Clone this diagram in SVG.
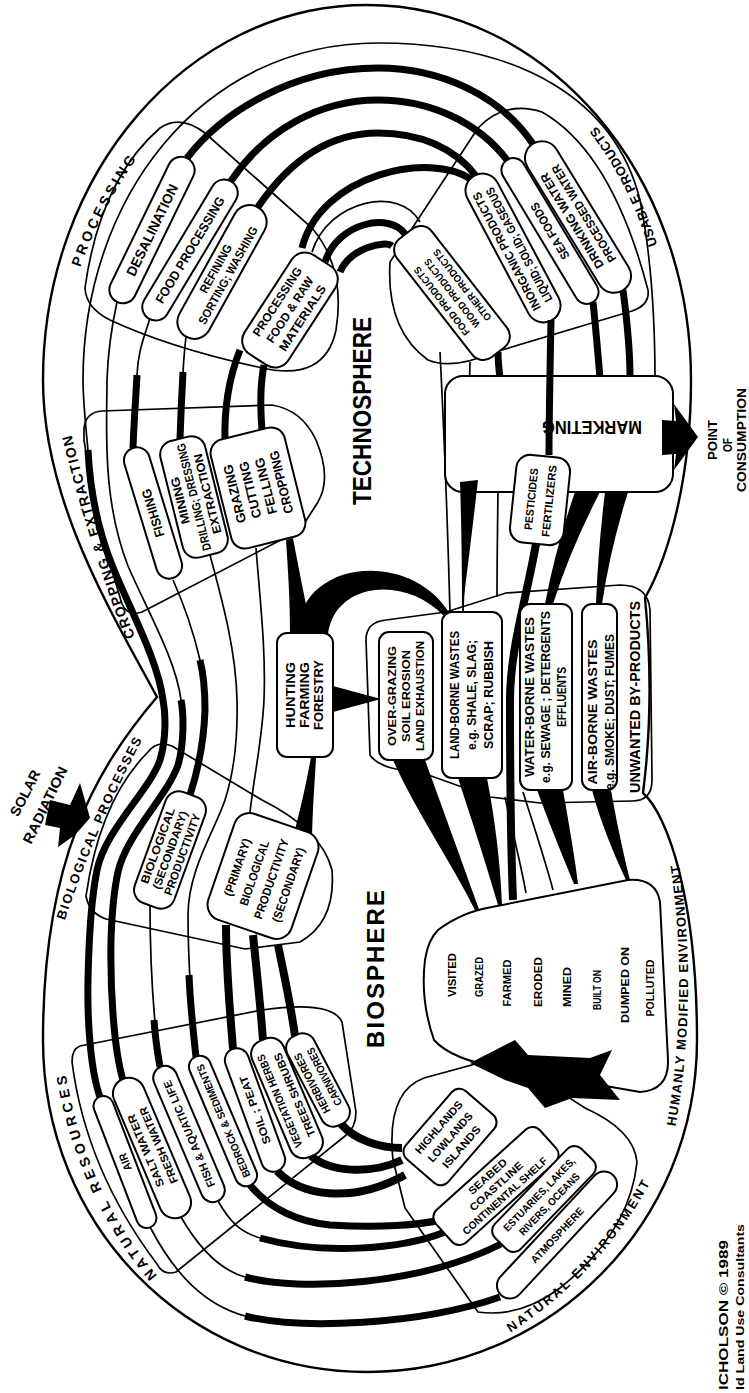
<svg xmlns="http://www.w3.org/2000/svg" width="749" height="1393" viewBox="0 0 749 1393">
<defs>
<style>
.o{fill:none;stroke:#000;stroke-width:2.4}
.t{fill:none;stroke:#000;stroke-width:1.7}
.k{fill:none;stroke:#000;stroke-width:7}
.kk{fill:none;stroke:#000;stroke-width:8}
.b{fill:#fff;stroke:#000;stroke-width:2}
.f{fill:#000;stroke:none}
text{font-family:"Liberation Sans",Arial,sans-serif;font-weight:bold;fill:#000}
.c{text-anchor:middle;dominant-baseline:central}
</style>
<path id="pProc" d="M 76,280 Q 100,206 146,146"/>
<path id="pUse" d="M 662,262 Q 640,177 585,112"/>
<path id="pCrop" d="M 140,650 Q 95,535 68,420"/>
<path id="pBio" d="M 60,935 Q 95,826 150,725"/>
<path id="pNR" d="M 168,1288 Q 80,1190 63,1055"/>
<path id="pNE" d="M 490,1345 Q 604,1280 662,1160"/>
<path id="pHum" d="M 673,1140 Q 701,995 677,850"/>
</defs>
<rect width="749" height="1393" fill="#fff"/>

<g id="outline">
<path class="o" d="M157,697 C110,610 43,500 43,380 C43,173 188,5 367,5 C546,5 691,173 691,380 C691,470 672,550 645,598 Q655,700 643,793 C668,815 697,900 697,1040 C697,1225 548,1372 367,1372 C186,1372 43,1225 43,1040 C43,860 95,770 157,697 Z"/>
</g>

<g id="regions">
<path class="t" d="M110,320 Q86,308 85,288 Q100,180 160,128 Q180,114 205,133 L312,228 Q346,268 336,330 Q325,382 262,368 Q170,348 110,320 Z"/>
<path class="t" d="M390,262 L478,128 Q505,100 542,112 Q612,152 648,290 Q650,305 632,311 L492,353 Q452,370 428,360 Q386,330 390,262 Z"/>
<path class="t" d="M84,428 Q86,412 102,411 L272,405 Q302,410 316,440 Q332,478 318,502 L300,530 L142,612 Q128,617 122,604 Q96,520 84,440 Z"/>
<path class="t" d="M148,752 Q157,740 172,746 L262,800 Q322,830 332,870 Q336,922 300,942 L245,949 L106,919 Q89,913 86,896 Q100,800 148,752 Z"/>
<path class="t" d="M80,1046 L262,1010 Q332,1000 342,1022 L356,1112 Q356,1128 345,1136 L176,1272 Q163,1276 157,1264 Q86,1170 72,1062 Q72,1049 80,1046 Z"/>
<path class="t" d="M405,1208 L393,1160 Q386,1092 424,1078 L505,1056 L585,1108 Q634,1130 637,1162 Q630,1232 560,1288 Q520,1318 478,1312 Z"/>
<path class="t" d="M366,640 Q366,622 386,620 L446,612 L506,593 L620,585 Q648,585 650,610 L652,780 Q652,801 632,801 L540,803 L490,797 L420,772 Q380,770 370,755 Z"/>
</g>

<g id="connectors">
<path class="k" d="M100,1097 C92,1075 87,1030 88,980 C89,930 92,895 97,870 C105,830 150,790 160,760 C166,740 166,715 163,700 C158,660 130,610 112,565 C98,530 90,490 88,450"/>
<path class="t" d="M88,450 C85,420 83,400 83,380 C83,200 200,43 378,43 C520,43 615,100 640,200 C652,260 655,320 655,380"/>
<path class="k" d="M123,1080 C114,1050 110,990 111,940 C112,910 114,890 118,872 C126,835 168,795 178,765 C184,745 184,715 181,700"/>
<path class="t" d="M181,700 C176,660 148,612 128,566 C114,530 108,490 107,450 C106,420 107,400 107,380 C108,350 112,325 117,302"/>
<path class="k" d="M190,795 C198,770 204,740 205,710 C205,690 203,672 200,660"/>
<path class="t" d="M200,660 C193,630 182,600 173,580"/>
<path class="t" d="M196,1057 C192,1020 188,960 188,915 C188,870 215,830 225,800 C233,775 238,740 237,700 C236,650 222,600 210,555"/>
<path class="k" d="M196,1057 C193,1030 190,1000 189,975"/>
<path class="t" d="M160,1067 C155,1030 150,980 150,905"/>
<path class="k" d="M160,1067 C157,1050 155,1035 154,1020"/>
<path class="kk" d="M233,1049 C230,1010 226,970 226,925"/>
<path class="kk" d="M263,1040 C260,1000 256,965 253,935"/>
<path class="kk" d="M295,1036 C290,1000 283,970 278,945"/>
<path class="t" d="M250,812 C255,770 262,740 264,700 C266,650 260,600 256,548"/>
<path class="f" d="M294,834 L312,840 C313,800 315,780 316,757 L311,757 C305,790 300,810 294,834 Z"/>
<path class="f" d="M290,633 L312,633 C305,600 298,565 293,538 L286,540 C288,570 290,600 290,633 Z"/>
<path class="f" d="M298,634 C298,560 410,548 450,614 L444,616 C405,575 335,582 328,634 Z"/>
<polygon class="f" points="333,686 333,712 381,699"/>
<path class="k" d="M133,448 C134,420 136,395 137,375"/>
<path class="t" d="M137,375 C138,350 145,335 150,318"/>
<path class="k" d="M180,439 C181,410 182,390 183,372"/>
<path class="t" d="M183,372 C184,355 185,345 186,337"/>
<path class="k" d="M225,442 C224,410 228,380 240,350"/>
<path class="k" d="M262,430 C260,405 260,385 264,365"/>
<path class="k" d="M187,158 C220,115 290,68 378,68 C440,68 500,95 533,144"/>
<path class="k" d="M231,181 C265,130 320,100 378,100 C430,100 478,122 507,160"/>
<path class="k" d="M258,207 C290,160 330,133 378,133 C420,133 455,148 476,176"/>
<path class="k" d="M302,248 C320,175 430,150 472,180"/>
<path class="t" d="M312,252 C328,200 400,185 420,222"/>
<path class="k" d="M325,262 C338,222 390,212 405,234"/>
<path class="k" d="M340,272 C350,248 385,240 392,246"/>
<path class="k" d="M623,290 C627,320 630,350 630,378"/>
<path class="k" d="M593,302 C596,330 598,355 600,378"/>
<path class="k" d="M498,352 C498,362 499,370 500,378"/>
<path class="t" d="M440,352 C445,450 448,540 450,612"/>
<path class="t" d="M470,362 C468,450 465,540 463,612"/>
<path class="t" d="M498,352 C500,420 497,520 497,597"/>
<path class="t" d="M150,1227 C175,1275 205,1305 245,1316"/>
<path class="k" d="M245,1316 C300,1330 420,1325 500,1297"/>
<path class="t" d="M181,1217 C200,1250 220,1270 245,1277"/>
<path class="k" d="M245,1277 C300,1292 420,1285 501,1244"/>
<path class="t" d="M218,1201 C230,1222 240,1232 260,1238"/>
<path class="k" d="M260,1238 C320,1255 400,1250 445,1232"/>
<path class="k" d="M250,1185 C270,1210 300,1222 330,1225 C380,1228 420,1225 440,1220"/>
<path class="kk" d="M277,1171 C300,1195 350,1205 405,1175"/>
<path class="kk" d="M311,1156 C330,1172 370,1175 402,1160"/>
<path class="kk" d="M341,1124 C355,1140 380,1148 402,1148"/>
<path class="f" d="M393,760 L425,760 C445,815 465,870 480,912 L476,912 C450,860 415,810 393,760 Z"/>
<path class="f" d="M458,778 L487,778 C495,820 500,860 502,905 L498,905 C485,860 470,815 458,778 Z"/>
<path class="f" d="M537,790 L563,790 C570,830 575,860 578,884 L574,884 C560,850 548,820 537,790 Z"/>
<path class="f" d="M592,790 L611,790 C618,830 625,860 630,880 L626,880 C612,850 600,820 592,790 Z"/>
<path class="t" d="M523,792 C535,830 545,860 553,890"/>
<path class="t" d="M505,797 C512,830 520,860 526,893"/>
</g>

<g id="node-processing-pills">
<rect class="b" x="-80" y="-13.5" width="160" height="27" rx="13.5" transform="translate(152,230) rotate(-64)"/>
<text class="c" transform="translate(152,230) rotate(-64)" font-size="14" textLength="100" lengthAdjust="spacingAndGlyphs">DESALINATION</text>
<rect class="b" x="-80" y="-13.5" width="160" height="27" rx="13.5" transform="translate(190,250) rotate(-59)"/>
<text class="c" transform="translate(190,250) rotate(-59)" font-size="13" textLength="122" lengthAdjust="spacingAndGlyphs">FOOD PROCESSING</text>
<rect class="b" x="-74" y="-17" width="148" height="34" rx="17" transform="translate(222,272) rotate(-61)"/>
<text class="c" transform="translate(222,272) rotate(-61)" y="-7" font-size="12" textLength="54" lengthAdjust="spacingAndGlyphs">REFINING</text>
<text class="c" transform="translate(222,272) rotate(-61)" y="7" font-size="12" textLength="110" lengthAdjust="spacingAndGlyphs">SORTING; WASHING</text>
<rect class="b" x="-59" y="-26" width="118" height="52" rx="16" transform="translate(290,310) rotate(-57)"/>
<text class="c" transform="translate(290,310) rotate(-57)" y="-15" font-size="12" textLength="80" lengthAdjust="spacingAndGlyphs">PROCESSING</text>
<text class="c" transform="translate(290,310) rotate(-57)" y="0" font-size="12" textLength="76" lengthAdjust="spacingAndGlyphs">FOOD &amp; RAW</text>
<text class="c" transform="translate(290,310) rotate(-57)" y="15" font-size="12" textLength="76" lengthAdjust="spacingAndGlyphs">MATERIALS</text>
</g>

<g id="node-usable-pills">
<rect class="b" x="-86" y="-17" width="172" height="34" rx="17" transform="translate(578,217) rotate(-121.5)"/>
<text class="c" transform="translate(578,217) rotate(-121.5)" y="-7" font-size="12" textLength="110" lengthAdjust="spacingAndGlyphs">DRINKING WATER</text>
<text class="c" transform="translate(578,217) rotate(-121.5)" y="7" font-size="12" textLength="112" lengthAdjust="spacingAndGlyphs">PROCESSED WATER</text>
<rect class="b" x="-83" y="-12" width="166" height="24" rx="12" transform="translate(550,231) rotate(-121)"/>
<text class="c" transform="translate(550,231) rotate(-121)" font-size="12" textLength="64" lengthAdjust="spacingAndGlyphs">SEA FOODS</text>
<rect class="b" x="-82" y="-17" width="164" height="34" rx="17" transform="translate(513,248) rotate(-118)"/>
<text class="c" transform="translate(513,248) rotate(-118)" y="-7" font-size="12" textLength="132" lengthAdjust="spacingAndGlyphs">INORGANIC PRODUCTS</text>
<text class="c" transform="translate(513,248) rotate(-118)" y="7" font-size="12" textLength="128" lengthAdjust="spacingAndGlyphs">LIQUID; SOLID; GASEOUS</text>
<rect class="b" x="-75" y="-22" width="150" height="44" rx="14" transform="translate(452,293) rotate(-128)"/>
<text class="c" transform="translate(452,293) rotate(-128)" y="-13" font-size="10" textLength="84" lengthAdjust="spacingAndGlyphs">FOOD PRODUCTS</text>
<text class="c" transform="translate(452,293) rotate(-128)" y="0" font-size="10" textLength="84" lengthAdjust="spacingAndGlyphs">WOOD PRODUCTS</text>
<text class="c" transform="translate(452,293) rotate(-128)" y="13" font-size="10" textLength="88" lengthAdjust="spacingAndGlyphs">OTHER PRODUCTS</text>
</g>

<g id="node-cropping-pills">
<rect class="b" x="-68" y="-13" width="136" height="26" rx="13" transform="translate(153,513) rotate(-107)"/>
<text class="c" transform="translate(153,513) rotate(-107)" font-size="13" textLength="50" lengthAdjust="spacingAndGlyphs">FISHING</text>
<rect class="b" x="-60" y="-23" width="120" height="46" rx="14" transform="translate(194,497) rotate(-104)"/>
<text class="c" transform="translate(194,497) rotate(-104)" y="-14" font-size="12" textLength="48" lengthAdjust="spacingAndGlyphs">MINING</text>
<text class="c" transform="translate(194,497) rotate(-104)" y="0" font-size="12" textLength="110" lengthAdjust="spacingAndGlyphs">DRILLING; DRESSING</text>
<text class="c" transform="translate(194,497) rotate(-104)" y="14" font-size="12" textLength="82" lengthAdjust="spacingAndGlyphs">EXTRACTION</text>
<rect class="b" x="-56" y="-38" width="112" height="76" rx="14" transform="translate(258,488) rotate(-104)"/>
<text class="c" transform="translate(258,488) rotate(-104)" y="-24" font-size="13" textLength="60" lengthAdjust="spacingAndGlyphs">GRAZING</text>
<text class="c" transform="translate(258,488) rotate(-104)" y="-8" font-size="13" textLength="58" lengthAdjust="spacingAndGlyphs">CUTTING</text>
<text class="c" transform="translate(258,488) rotate(-104)" y="8" font-size="13" textLength="58" lengthAdjust="spacingAndGlyphs">FELLING</text>
<text class="c" transform="translate(258,488) rotate(-104)" y="24" font-size="13" textLength="64" lengthAdjust="spacingAndGlyphs">CROPPING</text>
</g>

<g id="node-bio-pills">
<rect class="b" x="-59" y="-21" width="118" height="42" rx="14" transform="translate(170,850) rotate(-70)"/>
<text class="c" transform="translate(170,850) rotate(-70)" y="-13" font-size="11.5" textLength="80" lengthAdjust="spacingAndGlyphs">BIOLOGICAL</text>
<text class="c" transform="translate(170,850) rotate(-70)" y="0" font-size="11.5" textLength="82" lengthAdjust="spacingAndGlyphs">(SECONDARY)</text>
<text class="c" transform="translate(170,850) rotate(-70)" y="13" font-size="11.5" textLength="86" lengthAdjust="spacingAndGlyphs">PRODUCTIVITY</text>
<rect class="b" x="-56" y="-44" width="112" height="88" rx="16" transform="translate(263,876) rotate(-71)"/>
<text class="c" transform="translate(263,876) rotate(-71)" y="-27" font-size="12" textLength="60" lengthAdjust="spacingAndGlyphs">(PRIMARY)</text>
<text class="c" transform="translate(263,876) rotate(-71)" y="-9" font-size="12" textLength="68" lengthAdjust="spacingAndGlyphs">BIOLOGICAL</text>
<text class="c" transform="translate(263,876) rotate(-71)" y="9" font-size="12" textLength="84" lengthAdjust="spacingAndGlyphs">PRODUCTIVITY</text>
<text class="c" transform="translate(263,876) rotate(-71)" y="27" font-size="12" textLength="78" lengthAdjust="spacingAndGlyphs">(SECONDARY)</text>
</g>

<g id="node-hunting">
<rect class="b" x="277" y="633" width="56" height="124" rx="10"/>
<text class="c" transform="translate(305,695) rotate(-90)" y="-14" font-size="12" textLength="66" lengthAdjust="spacingAndGlyphs">HUNTING</text>
<text class="c" transform="translate(305,695) rotate(-90)" y="0" font-size="12" textLength="66" lengthAdjust="spacingAndGlyphs">FARMING</text>
<text class="c" transform="translate(305,695) rotate(-90)" y="14" font-size="12" textLength="70" lengthAdjust="spacingAndGlyphs">FORESTRY</text>
</g>

<g id="node-overgrazing">
<rect class="b" x="379" y="632" width="54" height="128" rx="10"/>
<text class="c" transform="translate(406,696) rotate(-90)" y="-14" font-size="11.5" textLength="100" lengthAdjust="spacingAndGlyphs">OVER-GRAZING</text>
<text class="c" transform="translate(406,696) rotate(-90)" y="0" font-size="11.5" textLength="92" lengthAdjust="spacingAndGlyphs">SOIL EROSION</text>
<text class="c" transform="translate(406,696) rotate(-90)" y="14" font-size="11.5" textLength="110" lengthAdjust="spacingAndGlyphs">LAND EXHAUSTION</text>
</g>

<g id="node-land-borne">
<rect class="b" x="442" y="612" width="60" height="166" rx="10"/>
<text class="c" transform="translate(472,695) rotate(-90)" y="-17" font-size="12" textLength="128" lengthAdjust="spacingAndGlyphs">LAND-BORNE WASTES</text>
<text class="c" transform="translate(472,695) rotate(-90)" y="0" font-size="12" textLength="110" lengthAdjust="spacingAndGlyphs">e.g. SHALE, SLAG;</text>
<text class="c" transform="translate(472,695) rotate(-90)" y="17" font-size="12" textLength="108" lengthAdjust="spacingAndGlyphs">SCRAP; RUBBISH</text>
</g>

<g id="node-pesticides-band">
<path class="kk" d="M536,544 C526,600 510,650 510,700 C510,780 511,850 513,900"/>
</g>

<g id="node-water-borne">
<rect class="b" x="520" y="604" width="52" height="186" rx="10"/>
<text class="c" transform="translate(546,697) rotate(-90)" y="-16" font-size="12" textLength="160" lengthAdjust="spacingAndGlyphs">WATER-BORNE WASTES</text>
<text class="c" transform="translate(546,697) rotate(-90)" y="0" font-size="12" textLength="172" lengthAdjust="spacingAndGlyphs">e.g. SEWAGE ; DETERGENTS</text>
<text class="c" transform="translate(546,697) rotate(-90)" y="16" font-size="12" textLength="60" lengthAdjust="spacingAndGlyphs">EFFLUENTS</text>
</g>

<g id="node-air-borne">
<rect class="b" x="582" y="604" width="35" height="186" rx="10"/>
<text class="c" transform="translate(601,712) rotate(-90)" y="-8" font-size="12" textLength="145" lengthAdjust="spacingAndGlyphs">AIR-BORNE WASTES</text>
<text class="c" transform="translate(601,712) rotate(-90)" y="9" font-size="12" textLength="156" lengthAdjust="spacingAndGlyphs">e.g. SMOKE; DUST; FUMES</text>
</g>

<g id="node-unwanted">
<text class="c" transform="translate(634,697) rotate(-90)" font-size="15" textLength="192" lengthAdjust="spacingAndGlyphs">UNWANTED BY-PRODUCTS</text>
</g>

<g id="node-marketing">
<rect class="b" x="445" y="376" width="228" height="116" rx="18"/>
<path class="k" d="M551,320 C550,370 549,420 549,455"/>
<text class="c" transform="translate(592,427) rotate(180)" font-size="19" textLength="100" lengthAdjust="spacingAndGlyphs">MARKETING</text>
<path class="f" d="M575,492 L600,492 Q570,550 553,604 L545,604 Q555,550 575,492 Z"/>
<path class="f" d="M605,492 L628,492 Q610,550 602,604 L596,604 Q598,550 605,492 Z"/>
<path class="f" d="M460,482 L478,480 Q470,550 462,612 Q462,540 460,482 Z"/>
<polygon class="f" points="662,420 676,421 674,404 698,437 674,470 676,454 662,455"/>
</g>

<g id="node-pesticides">
<rect class="b" x="-44" y="-27" width="88" height="54" rx="14" transform="translate(540,500) rotate(-84)"/>
<text class="c" transform="translate(540,500) rotate(-84)" y="-9" font-size="11" textLength="62" lengthAdjust="spacingAndGlyphs">PESTICIDES</text>
<text class="c" transform="translate(540,500) rotate(-84)" y="9" font-size="11" textLength="72" lengthAdjust="spacingAndGlyphs">FERTILIZERS</text>
</g>

<g id="node-visited">
<path class="b" d="M438,930 Q462,912 492,907 L628,880 Q656,878 660,902 L668,1060 Q669,1090 640,1092 L502,1068 Q452,1060 434,1040 Q420,1000 425,960 Q428,940 438,930 Z"/>
<text class="c" transform="translate(452,975) rotate(-90)" font-size="10.5" textLength="44" lengthAdjust="spacingAndGlyphs">VISITED</text>
<text class="c" transform="translate(479,977) rotate(-90)" font-size="10.5" textLength="40" lengthAdjust="spacingAndGlyphs">GRAZED</text>
<text class="c" transform="translate(507,983) rotate(-90)" font-size="10.5" textLength="47" lengthAdjust="spacingAndGlyphs">FARMED</text>
<text class="c" transform="translate(538,982) rotate(-90)" font-size="10.5" textLength="50" lengthAdjust="spacingAndGlyphs">ERODED</text>
<text class="c" transform="translate(567,987) rotate(-90)" font-size="10.5" textLength="40" lengthAdjust="spacingAndGlyphs">MINED</text>
<text class="c" transform="translate(597,990) rotate(-90)" font-size="10.5" textLength="40" lengthAdjust="spacingAndGlyphs">BUILT ON</text>
<text class="c" transform="translate(625,985) rotate(-90)" font-size="10.5" textLength="76" lengthAdjust="spacingAndGlyphs">DUMPED ON</text>
<text class="c" transform="translate(650,988) rotate(-90)" font-size="10.5" textLength="57" lengthAdjust="spacingAndGlyphs">POLLUTED</text>
</g>

<g id="node-star-arrow">
<polygon class="f" points="470,1063 515,1040 528,1055 590,1058 612,1050 600,1075 620,1100 572,1098 545,1108 528,1088 505,1080"/>
</g>

<g id="node-natural-environment-pills">
<rect class="b" x="-45" y="-28" width="90" height="56" rx="10" transform="translate(450,1137) rotate(-49)"/>
<text class="c" transform="translate(450,1137) rotate(-49)" y="-15" font-size="11" textLength="66" lengthAdjust="spacingAndGlyphs">HIGHLANDS</text>
<text class="c" transform="translate(450,1137) rotate(-49)" y="0" font-size="11" textLength="62" lengthAdjust="spacingAndGlyphs">LOWLANDS</text>
<text class="c" transform="translate(450,1137) rotate(-49)" y="15" font-size="11" textLength="52" lengthAdjust="spacingAndGlyphs">ISLANDS</text>
<rect class="b" x="-70" y="-22" width="140" height="44" rx="10" transform="translate(496,1186) rotate(-42)"/>
<text class="c" transform="translate(496,1186) rotate(-42)" y="-13" font-size="10.5" textLength="48" lengthAdjust="spacingAndGlyphs">SEABED</text>
<text class="c" transform="translate(496,1186) rotate(-42)" y="0" font-size="10.5" textLength="68" lengthAdjust="spacingAndGlyphs">COASTLINE</text>
<text class="c" transform="translate(496,1186) rotate(-42)" y="13" font-size="10.5" textLength="110" lengthAdjust="spacingAndGlyphs">CONTINENTAL SHELF</text>
<rect class="b" x="-62" y="-18" width="124" height="36" rx="10" transform="translate(544,1199) rotate(-46)"/>
<text class="c" transform="translate(544,1199) rotate(-46)" y="-7" font-size="10.5" textLength="98" lengthAdjust="spacingAndGlyphs">ESTUARIES, LAKES,</text>
<text class="c" transform="translate(544,1199) rotate(-46)" y="7" font-size="10.5" textLength="82" lengthAdjust="spacingAndGlyphs">RIVERS, OCEANS</text>
<rect class="b" x="-82" y="-13" width="164" height="26" rx="13" transform="translate(557,1235) rotate(-47)"/>
<text class="c" transform="translate(557,1235) rotate(-47)" font-size="10.5" textLength="72" lengthAdjust="spacingAndGlyphs">ATMOSPHERE</text>
</g>

<g id="node-natural-resources-pills">
<rect class="b" x="-70" y="-10" width="140" height="20" rx="10" transform="translate(125,1162) rotate(-111)"/>
<text class="c" transform="translate(125,1162) rotate(-111)" font-size="11" textLength="18" lengthAdjust="spacingAndGlyphs">AIR</text>
<rect class="b" x="-75" y="-16" width="150" height="32" rx="16" transform="translate(152,1148) rotate(-113)"/>
<text class="c" transform="translate(152,1148) rotate(-113)" y="-7" font-size="11" textLength="78" lengthAdjust="spacingAndGlyphs">SALT WATER</text>
<text class="c" transform="translate(152,1148) rotate(-113)" y="7" font-size="11" textLength="82" lengthAdjust="spacingAndGlyphs">FRESH WATER</text>
<rect class="b" x="-73" y="-12" width="146" height="24" rx="12" transform="translate(189,1134) rotate(-113)"/>
<text class="c" transform="translate(189,1134) rotate(-113)" font-size="11" textLength="115" lengthAdjust="spacingAndGlyphs">FISH &amp; AQUATIC LIFE</text>
<rect class="b" x="-70" y="-11" width="140" height="22" rx="11" transform="translate(223,1121) rotate(-113)"/>
<text class="c" transform="translate(223,1121) rotate(-113)" font-size="10.5" textLength="122" lengthAdjust="spacingAndGlyphs">BEDROCK &amp; SEDIMENTS</text>
<rect class="b" x="-65" y="-12" width="130" height="24" rx="12" transform="translate(255,1110) rotate(-110)"/>
<text class="c" transform="translate(255,1110) rotate(-110)" font-size="11" textLength="72" lengthAdjust="spacingAndGlyphs">SOIL ; PEAT</text>
<rect class="b" x="-63" y="-17" width="126" height="34" rx="14" transform="translate(287,1098) rotate(-113)"/>
<text class="c" transform="translate(287,1098) rotate(-113)" y="-8" font-size="11" textLength="100" lengthAdjust="spacingAndGlyphs">VEGETATION HERBS</text>
<text class="c" transform="translate(287,1098) rotate(-113)" y="8" font-size="11" textLength="90" lengthAdjust="spacingAndGlyphs">TREES SHRUBS</text>
<rect class="b" x="-50" y="-15" width="100" height="30" rx="13" transform="translate(318,1080) rotate(-117.6)"/>
<text class="c" transform="translate(318,1080) rotate(-117.6)" y="-7" font-size="11" textLength="66" lengthAdjust="spacingAndGlyphs">HERBIVORES</text>
<text class="c" transform="translate(318,1080) rotate(-117.6)" y="7" font-size="11" textLength="64" lengthAdjust="spacingAndGlyphs">CARNIVORES</text>
</g>

<g id="labels">
<text font-size="14" letter-spacing="3.2"><textPath href="#pProc" startOffset="50%" text-anchor="middle">PROCESSING</textPath></text>
<text font-size="13" letter-spacing="0.3"><textPath href="#pUse" startOffset="50%" text-anchor="middle">USABLE PRODUCTS</textPath></text>
<text font-size="14" letter-spacing="1.4"><textPath href="#pCrop" startOffset="50%" text-anchor="middle">CROPPING &amp; EXTRACTION</textPath></text>
<text font-size="13" letter-spacing="1.6"><textPath href="#pBio" startOffset="50%" text-anchor="middle">BIOLOGICAL PROCESSES</textPath></text>
<text font-size="14" letter-spacing="4"><textPath href="#pNR" startOffset="50%" text-anchor="middle">NATURAL RESOURCES</textPath></text>
<text font-size="13" letter-spacing="2.5"><textPath href="#pNE" startOffset="50%" text-anchor="middle">NATURAL ENVIRONMENT</textPath></text>
<text font-size="13" letter-spacing="1.2"><textPath href="#pHum" startOffset="50%" text-anchor="middle">HUMANLY MODIFIED ENVIRONMENT</textPath></text>
<text class="c" transform="translate(362,411) rotate(-90)" font-size="26" textLength="188" lengthAdjust="spacingAndGlyphs">TECHNOSPHERE</text>
<text class="c" transform="translate(375,969) rotate(-90)" font-size="24" textLength="158" lengthAdjust="spacing">BIOSPHERE</text>
</g>

<g id="node-solar">
<polygon class="f" points="50,800 70,805 80,783 90,818 75,835 58,847 60,828 45,825"/>
<text class="c" transform="translate(25,793) rotate(-63)" font-size="14" textLength="50" lengthAdjust="spacingAndGlyphs">SOLAR</text>
<text class="c" transform="translate(45,805) rotate(-64)" font-size="14" textLength="84" lengthAdjust="spacingAndGlyphs">RADIATION</text>
</g>

<g id="node-consumption">
<text class="c" transform="translate(712,440) rotate(-90)" font-size="13" textLength="40" lengthAdjust="spacingAndGlyphs">POINT</text>
<text class="c" transform="translate(727,445) rotate(-90)" font-size="13" textLength="14" lengthAdjust="spacingAndGlyphs">OF</text>
<text class="c" transform="translate(741,440) rotate(-90)" font-size="13" textLength="104" lengthAdjust="spacingAndGlyphs">CONSUMPTION</text>
</g>

<g id="credits">
<text transform="translate(724,1390) rotate(-90)" font-size="12" font-weight="normal" dominant-baseline="central" textLength="150" lengthAdjust="spacingAndGlyphs">ICHOLSON © 1989</text>
<text transform="translate(740,1390) rotate(-90)" font-size="11" font-weight="normal" dominant-baseline="central" textLength="166" lengthAdjust="spacingAndGlyphs">ld Land Use Consultants</text>
</g>
</svg>
